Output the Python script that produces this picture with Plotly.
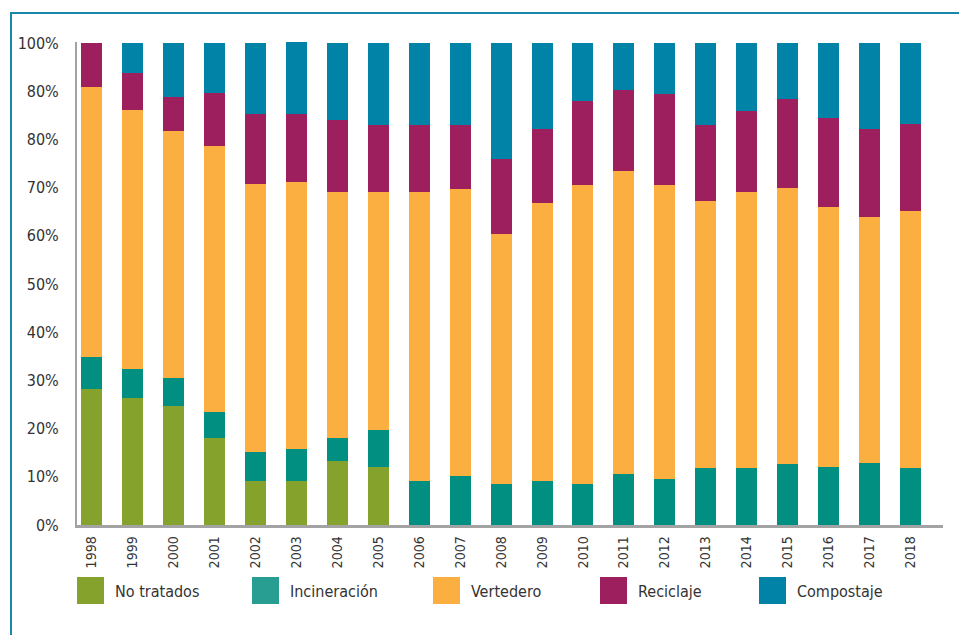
import plotly.graph_objects as go

# Municipal waste treatment shares by year (%)
years = [str(y) for y in range(1998, 2019)]
no_tratados = [28.2, 26.3, 24.7, 18.0, 9.1, 9.1, 13.3, 12.0, 0, 0, 0,
               0, 0, 0, 0, 0, 0, 0, 0, 0, 0]
incineracion = [6.7, 6.1, 5.8, 5.4, 6.0, 6.7, 4.7, 7.7, 9.1, 10.2, 8.5,
                9.1, 8.5, 10.6, 9.5, 11.8, 11.8, 12.7, 12.0, 12.9, 11.8]
vertedero = [56.0, 53.7, 51.2, 55.2, 55.6, 55.4, 51.1, 49.4, 60.0, 59.5, 51.9,
             57.7, 62.0, 62.8, 61.0, 55.4, 57.3, 57.2, 54.0, 51.0, 53.3]
reciclaje = [9.1, 7.7, 7.1, 11.0, 14.6, 14.1, 14.9, 13.9, 13.9, 13.3, 15.5,
             15.4, 17.5, 16.8, 19.0, 15.8, 16.8, 18.5, 18.4, 18.3, 18.1]
compostaje = [0, 6.2, 11.2, 10.4, 14.7, 15.1, 16.0, 17.0, 17.0, 17.0, 24.1,
              17.8, 12.0, 9.8, 10.5, 17.0, 14.1, 11.6, 15.6, 17.8, 16.8]

tick_vals = [0, 10, 20, 30, 40, 50, 60, 70, 80, 90, 100]
tick_text = ["0%", "10%", "20%", "30%", "40%", "50%", "60%", "70%", "80%", "80%", "100%"]

series = [
    ("No tratados", no_tratados, "#84a22c", "#84a22c"),
    ("Incineración", incineracion, "#008f80", "#289e92"),
    ("Vertedero", vertedero, "#fbaf41", "#fbaf41"),
    ("Reciclaje", reciclaje, "#9e1f5e", "#9e1f5e"),
    ("Compostaje", compostaje, "#0083a6", "#0083a6"),
]

FONT = "DejaVu Sans Condensed, Liberation Sans Narrow, Arial Narrow, sans-serif"
W, H = 959, 635
ML, MR, MT, MB = 77, 16, 42, 110
PW, PH = W - ML - MR, H - MT - MB


def px(x):
    return (x - ML) / PW


def py(y):
    return (H - MB - y) / PH


fig = go.Figure()
for name, vals, color, _ in series:
    fig.add_trace(go.Bar(x=years, y=vals, name=name, marker_color=color,
                         marker_line_width=0, showlegend=False))

shapes = []
annotations = []
# Outer frame (left and top edges)
shapes.append(dict(type="path", xref="paper", yref="paper",
                   path=f"M {px(11)} {py(640)} L {px(11)} {py(13)} L {px(965)} {py(13)}",
                   line=dict(color="#1a87a8", width=2)))

# Legend drawn with large square swatches
legend_x = [77, 252, 433, 600, 759]
for (name, _, _, lcolor), lx in zip(series, legend_x):
    shapes.append(dict(type="rect", xref="paper", yref="paper",
                       x0=px(lx), x1=px(lx + 27), y0=py(604), y1=py(577),
                       fillcolor=lcolor, line_width=0))
    annotations.append(dict(xref="paper", yref="paper", x=px(lx + 36), y=py(591),
                            text=name, showarrow=False, xanchor="left", yanchor="middle",
                            font=dict(family=FONT, size=16, color="#333333")))

fig.update_layout(
    barmode="stack",
    bargap=0.487,
    width=W, height=H,
    margin=dict(l=ML, r=MR, t=MT, b=MB, pad=0),
    paper_bgcolor="white",
    plot_bgcolor="white",
    font=dict(family=FONT, color="#333333"),
    shapes=shapes,
    annotations=annotations,
    xaxis=dict(type="category", range=[-0.354, 20.79], showgrid=False,
               showline=True, linecolor="#a3a3a3", linewidth=2.5,
               ticks="", tickangle=-90, tickfont=dict(family=FONT, size=14, color="#333333"),
               ticklabelstandoff=3),
    yaxis=dict(range=[0, 100.2], tickvals=tick_vals, ticktext=tick_text,
               showgrid=False, zeroline=False, showline=True, linecolor="#a3a3a3",
               linewidth=2, ticks="", ticklabelstandoff=13,
               tickfont=dict(family=FONT, size=16, color="#333333")),
)

fig.write_html("out.html")
